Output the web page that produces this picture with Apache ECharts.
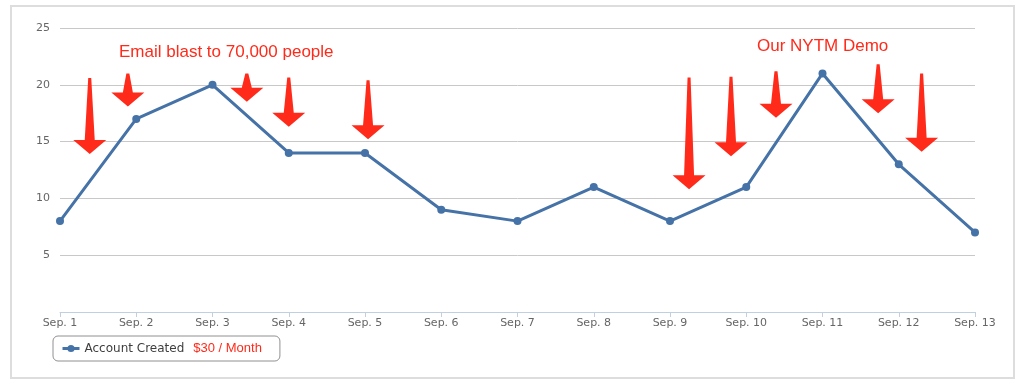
<!DOCTYPE html>
<html>
<head>
<meta charset="utf-8">
<script src="https://cdn.jsdelivr.net/npm/echarts@6/dist/echarts.min.js"></script>
<style>
html,body{margin:0;padding:0;background:#fff;}
#chart{width:1024px;height:389px;}
</style>
</head>
<body>
<div id="chart"></div>
<script>
// ---- data ----
var categories = ['Sep. 1','Sep. 2','Sep. 3','Sep. 4','Sep. 5','Sep. 6','Sep. 7','Sep. 8','Sep. 9','Sep. 10','Sep. 11','Sep. 12','Sep. 13'];
var accountsCreated = [8, 17, 20, 14, 14, 9, 8, 11, 8, 11, 21, 13, 7];
var seriesName = 'Account Created';
var legendNote = '$30 / Month';
var yTicks = { min: 0, max: 25, interval: 5 };
// annotation arrows: [category position, top value, tip value]
var arrowsX   = [0.39, 0.89, 2.45, 3.0, 4.04, 8.25, 8.8, 9.39, 10.73, 11.3];
var arrowsTop = [20.6, 21.0, 21.0, 20.65, 20.4, 20.65, 20.7, 21.2, 21.8, 21.0];
var arrowsTip = [13.9, 18.1, 18.5, 16.3, 15.2, 10.8, 13.7, 17.1, 17.5, 14.1];
var annotationTexts = ['Email blast to 70,000 people', 'Our NYTM Demo'];

var arrowData = arrowsX.map(function (x, i) { return [x, arrowsTop[i], arrowsTip[i]]; });

var red = '#ff2a1a';
var chart = echarts.init(document.getElementById('chart'), null, { renderer: 'canvas' });
chart.setOption({
  animation: false,
  backgroundColor: '#fff',
  grid: { left: 60, right: 49, top: 28, bottom: 77, containLabel: false },
  xAxis: [{
    type: 'category',
    data: categories,
    boundaryGap: false,
    axisLine: { show: true, lineStyle: { color: '#c0d0e0', width: 1 } },
    axisTick: { show: true, inside: false, length: 5, alignWithLabel: true, lineStyle: { color: '#c0d0e0' } },
    axisLabel: { color: '#666', fontSize: 11, fontFamily: 'DejaVu Sans', margin: 6 },
    splitLine: { show: false }
  }, {
    type: 'value', min: 0, max: categories.length - 1, show: false
  }],
  yAxis: {
    type: 'value',
    min: yTicks.min, max: yTicks.max, interval: yTicks.interval,
    axisLine: { show: false },
    axisTick: { show: false },
    axisLabel: { color: '#666', fontSize: 11, fontFamily: 'DejaVu Sans', margin: 10, showMinLabel: false },
    splitLine: { lineStyle: { color: '#c8c8c8', width: 1 } }
  },
  legend: {
    data: [seriesName],
    left: 53, top: 336,
    orient: 'horizontal',
    padding: [6, 18, 6, 8],
    borderColor: '#909090', borderWidth: 1, borderRadius: 5,
    itemWidth: 17, itemHeight: 9,
    lineStyle: { width: 3 },
    formatter: function (name) { return '{a|' + name + '}{b|' + legendNote + '}'; },
    textStyle: {
      rich: {
        a: { color: '#3e3e3e', fontSize: 12, fontFamily: 'DejaVu Sans' },
        b: { color: red, fontSize: 13, fontFamily: 'Liberation Sans', padding: [0, 0, 0, 9] }
      }
    }
  },
  series: [{
    name: seriesName,
    type: 'line',
    data: accountsCreated,
    color: '#4572a7',
    lineStyle: { color: '#4572a7', width: 3 },
    itemStyle: { color: '#4572a7' },
    symbol: 'circle',
    symbolSize: 8,
    showAllSymbol: true,
    z: 3
  }, {
    name: 'arrows',
    type: 'custom',
    xAxisIndex: 1,
    yAxisIndex: 0,
    data: arrowData,
    encode: { x: 0, y: [1, 2] },
    silent: true,
    z: 4,
    renderItem: function (params, api) {
      var top = api.coord([api.value(0), api.value(1)]);
      var tip = api.coord([api.value(0), api.value(2)]);
      var cx = top[0];
      var hy = tip[1] - 14;
      return {
        type: 'polygon',
        shape: { points: [
          [cx - 1.5, top[1]], [cx + 1.5, top[1]], [cx + 5, hy], [cx + 16.5, hy],
          [cx, tip[1]], [cx - 16.5, hy], [cx - 5, hy]
        ] },
        style: { fill: red }
      };
    }
  }],
  graphic: [
    { type: 'rect', shape: { x: 11, y: 6, width: 1003, height: 372 }, style: { fill: 'none', stroke: '#dddddd', lineWidth: 2 }, silent: true, z: -1 },
    { type: 'text', x: 119, y: 52, style: { text: annotationTexts[0], fill: red, font: '17px "Liberation Sans", Arial, sans-serif', verticalAlign: 'middle', align: 'left' } },
    { type: 'text', x: 757, y: 46, style: { text: annotationTexts[1], fill: red, font: '17px "Liberation Sans", Arial, sans-serif', verticalAlign: 'middle', align: 'left' } }
  ]
});
</script>
</body>
</html>
